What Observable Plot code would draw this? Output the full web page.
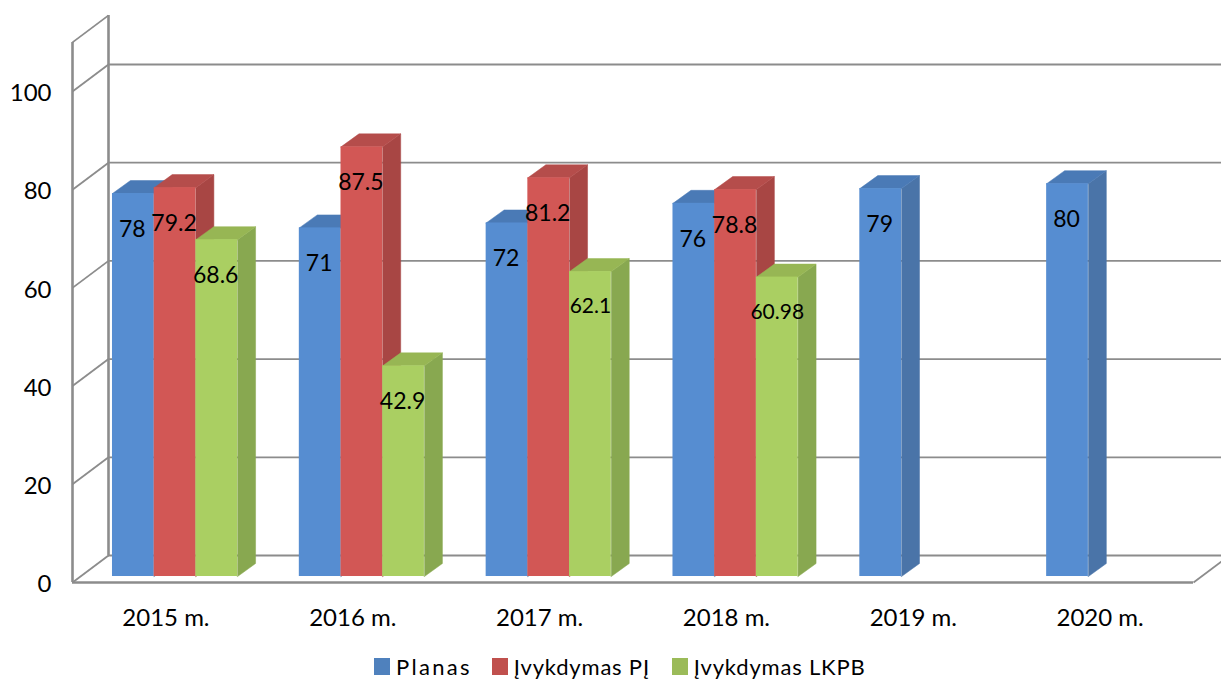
<!DOCTYPE html>
<html lang="lt">
<head>
<meta charset="utf-8">
<script src="https://cdn.jsdelivr.net/npm/d3@7"></script>
<script src="https://cdn.jsdelivr.net/npm/@observablehq/plot@0.6"></script>
<style>
  html, body { margin: 0; padding: 0; background: #fff; }
  body { width: 1221px; height: 682px; overflow: hidden; font-family: Lato, sans-serif; }
  svg { display: block; }
  #legend { display: flex; height: 32px; padding-left: 374px; align-items: center;
            font-size: 22px; letter-spacing: 0.8px; color: #000; }
  #legend span.sw { display: inline-block; width: 16px; height: 17px; margin-right: 6px; }
  #legend span.lb { margin-right: 22px; }
  #legend span.lb:nth-of-type(2) { letter-spacing: 2.3px; margin-right: 20px; }
</style>
</head>
<body>
<div id="chart"></div>
<div id="legend"></div>
<script>
const categories = ["2015 m.", "2016 m.", "2017 m.", "2018 m.", "2019 m.", "2020 m."];
const seriesNames = ["Planas", "Įvykdymas PĮ", "Įvykdymas LKPB"];
const planas = [78, 71, 72, 76, 79, 80];
const pj = [79.2, 87.5, 81.2, 78.8, null, null];
const lkpb = [68.6, 42.9, 62.1, 60.98, null, null];
const yTicks = [0, 20, 40, 60, 80, 100];
const yTop = 110;

const frontColors = ["#568dd1", "#d25755", "#aacf62"];
const sideColors = ["#4a74a8", "#a84644", "#88a850"];
const topColors = ["#4a7ab6", "#b54d4b", "#97b654"];
const legendColors = ["#4f81bd", "#c0504d", "#9bbb59"];
const gridColor = "#8c8c8c";

// projection constants (category units / value units)
const wallDx = 0.1927, wallDy = 5.5;
const depthDx = 0.0963, depthDy = 2.65;
const baseY = 1.22;
const groupStart = 0.214, barW = 0.2232;

const seriesValues = [planas, pj, lkpb];
const bars = seriesValues.map((vals, s) =>
  vals.flatMap((v, g) => v == null ? [] : [{
    s, g, v,
    x1: g + groupStart + s * barW,
    x2: g + groupStart + (s + 1) * barW,
    y1: baseY,
    y2: baseY + v
  }])
);

const faces = s => bars[s].flatMap(b => {
  const side = `side${b.g}`, top = `top${b.g}`;
  return [
    {id: side, fill: sideColors[s], x: b.x2, y: b.y1},
    {id: side, fill: sideColors[s], x: b.x2 + depthDx, y: b.y1 + depthDy},
    {id: side, fill: sideColors[s], x: b.x2 + depthDx, y: b.y2 + depthDy},
    {id: side, fill: sideColors[s], x: b.x2, y: b.y2},
    {id: top, fill: topColors[s], x: b.x1, y: b.y2},
    {id: top, fill: topColors[s], x: b.x1 + depthDx, y: b.y2 + depthDy},
    {id: top, fill: topColors[s], x: b.x2 + depthDx, y: b.y2 + depthDy},
    {id: top, fill: topColors[s], x: b.x2, y: b.y2}
  ];
});

const smallLabels = new Set([62.1, 60.98]);
const labelDy = 36;
const allBars = bars.flat();

const gridAll = [...yTicks, yTop];
const catTicks = categories.map((_, i) => i + 0.5);

const chart = Plot.plot({
  width: 1221,
  height: 650,
  marginLeft: 72,
  marginRight: 28,
  marginTop: 0,
  marginBottom: 68,
  style: {fontFamily: "Lato, sans-serif", color: "#000", background: "#fff"},
  x: {domain: [0, 6]},
  y: {domain: [0, 118.53]},
  marks: [
    // back wall gridlines
    Plot.ruleY(yTicks, {y: d => d + wallDy, x1: wallDx, x2: 6 + wallDx, stroke: gridColor, strokeWidth: 1.8}),
    // side wall diagonals
    Plot.link(gridAll, {x1: 0, y1: d => d, x2: wallDx, y2: d => d + wallDy, stroke: gridColor, strokeWidth: 1.8}),
    // floor right diagonal
    Plot.link([0], {x1: 6, y1: d => d, x2: 6 + wallDx, y2: d => d + wallDy, stroke: gridColor, strokeWidth: 1.8}),
    // wall verticals
    Plot.ruleX([0], {x: d => d, y1: 0, y2: yTop, stroke: gridColor, strokeWidth: 2.6}),
    Plot.ruleX([wallDx], {x: d => d, y1: wallDy, y2: yTop + wallDy, stroke: gridColor, strokeWidth: 2.6}),
    // floor front edge
    Plot.ruleY([0], {x1: 0, x2: 6, stroke: gridColor, strokeWidth: 2.6}),
    // 3D bars
    ...[0, 1, 2].flatMap(s => [
      Plot.line(faces(s), {x: "x", y: "y", z: "id", fill: "fill", stroke: "fill", strokeWidth: 0.5, curve: "linear-closed"}),
      Plot.rect(bars[s], {x1: "x1", x2: "x2", y1: "y1", y2: "y2", fill: frontColors[s]})
    ]),
    // value labels
    Plot.text(allBars.filter(b => !smallLabels.has(b.v)), {
      x: b => (b.x1 + b.x2) / 2, y: "y2", text: b => String(b.v),
      dx: -1, dy: labelDy, fontSize: 23, fill: "#000"
    }),
    Plot.text(allBars.filter(b => smallLabels.has(b.v)), {
      x: b => (b.x1 + b.x2) / 2, y: "y2", text: b => String(b.v),
      dy: labelDy - 1, fontSize: 21, fill: "#000"
    }),
    Plot.axisY({ticks: yTicks, tickSize: 0, tickPadding: 21, dy: 2, fontSize: 24, label: null, anchor: "left"}),
    Plot.axisX({ticks: catTicks, tickFormat: d => categories[d - 0.5], tickSize: 0, tickPadding: 26, fontSize: 24, label: null, anchor: "bottom"})
  ]
});
document.getElementById("chart").append(chart);

const legend = d3.select("#legend");
seriesNames.forEach((name, i) => {
  legend.append("span").attr("class", "sw").style("background", legendColors[i]);
  legend.append("span").attr("class", "lb").text(name);
});
</script>
</body>
</html>
